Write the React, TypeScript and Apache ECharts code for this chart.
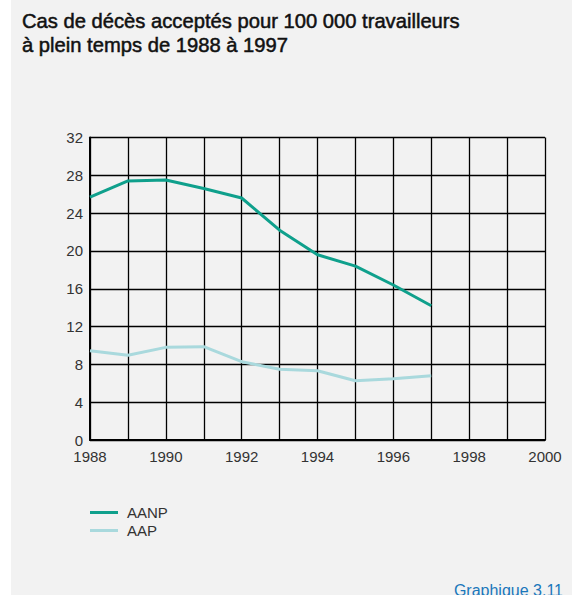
import React, { useEffect, useRef } from "react";
import * as echarts from "echarts";

const years = [1988, 1989, 1990, 1991, 1992, 1993, 1994, 1995, 1996, 1997];
const aanp = [25.7, 27.4, 27.5, 26.6, 25.6, 22.2, 19.6, 18.4, 16.4, 14.2];
const aap = [9.45, 8.96, 9.8, 9.87, 8.28, 7.48, 7.33, 6.27, 6.49, 6.8];
const seriesNames = ["AANP", "AAP"];
const titleText = "Cas de décès acceptés pour 100 000 travailleurs\nà plein temps de 1988 à 1997";
const footerText = "Graphique 3.11";

const FONT = "'Liberation Sans', Arial, sans-serif";

export default function App() {
  const ref = useRef<HTMLDivElement>(null);
  useEffect(() => {
    if (!ref.current) return;
    const chart = echarts.init(ref.current, undefined, { renderer: "svg" });
    chart.setOption({
      animation: false,
      backgroundColor: "#ffffff",
      textStyle: { fontFamily: FONT },
      graphic: [
        {
          type: "rect",
          z: -10,
          shape: { x: 11, y: 0, width: 561, height: 595 },
          style: { fill: "#f2f2f2" },
          silent: true,
        },
        {
          type: "text",
          right: 9,
          top: 582,
          style: { text: footerText, fill: "#1a77bb", font: `16px ${FONT}` },
        },
      ],
      title: {
        text: titleText,
        left: 22,
        top: 9,
        padding: 0,
        textStyle: {
          fontFamily: FONT,
          fontSize: 20.2,
          fontWeight: "normal",
          color: "#111",
          lineHeight: 24,
          textBorderColor: "#111",
          textBorderWidth: 0.5,
        },
      },
      legend: {
        orient: "vertical",
        left: 90,
        top: 505,
        padding: 0,
        icon: "rect",
        itemWidth: 28,
        itemHeight: 3,
        itemGap: 3,
        data: seriesNames,
        textStyle: { fontFamily: FONT, fontSize: 15, color: "#333", padding: [0, 0, 0, 4] },
      },
      grid: { left: 90, right: 27, top: 137.5, bottom: 155, containLabel: false },
      xAxis: {
        type: "value",
        min: 1988,
        max: 2000,
        interval: 1,
        axisLine: { show: true, lineStyle: { color: "#000", width: 2 } },
        axisTick: { show: false },
        axisLabel: {
          margin: 9,
          fontSize: 15,
          color: "#333",
          fontFamily: FONT,
          formatter: (v: number) => (v % 2 === 0 ? String(v) : ""),
        },
        splitLine: { show: true, lineStyle: { color: "#000", width: 1.3 } },
      },
      yAxis: {
        type: "value",
        min: 0,
        max: 32,
        interval: 4,
        axisLine: { show: true, lineStyle: { color: "#000", width: 2 } },
        axisTick: { show: false },
        axisLabel: { margin: 7, fontSize: 15, color: "#333", fontFamily: FONT },
        splitLine: { show: true, lineStyle: { color: "#000", width: 1.3 } },
      },
      series: [
        {
          name: seriesNames[0],
          type: "line",
          showSymbol: false,
          color: "#0fa08c",
          lineStyle: { color: "#0fa08c", width: 3 },
          data: years.map((y, i) => [y, aanp[i]]),
        },
        {
          name: seriesNames[1],
          type: "line",
          showSymbol: false,
          color: "#a9d9dd",
          lineStyle: { color: "#a9d9dd", width: 3 },
          data: years.map((y, i) => [y, aap[i]]),
        },
      ],
    });
    return () => chart.dispose();
  }, []);
  return (
    <div
      ref={ref}
      style={{ position: "absolute", left: 0, top: 0, width: 572, height: 595 }}
    />
  );
}
